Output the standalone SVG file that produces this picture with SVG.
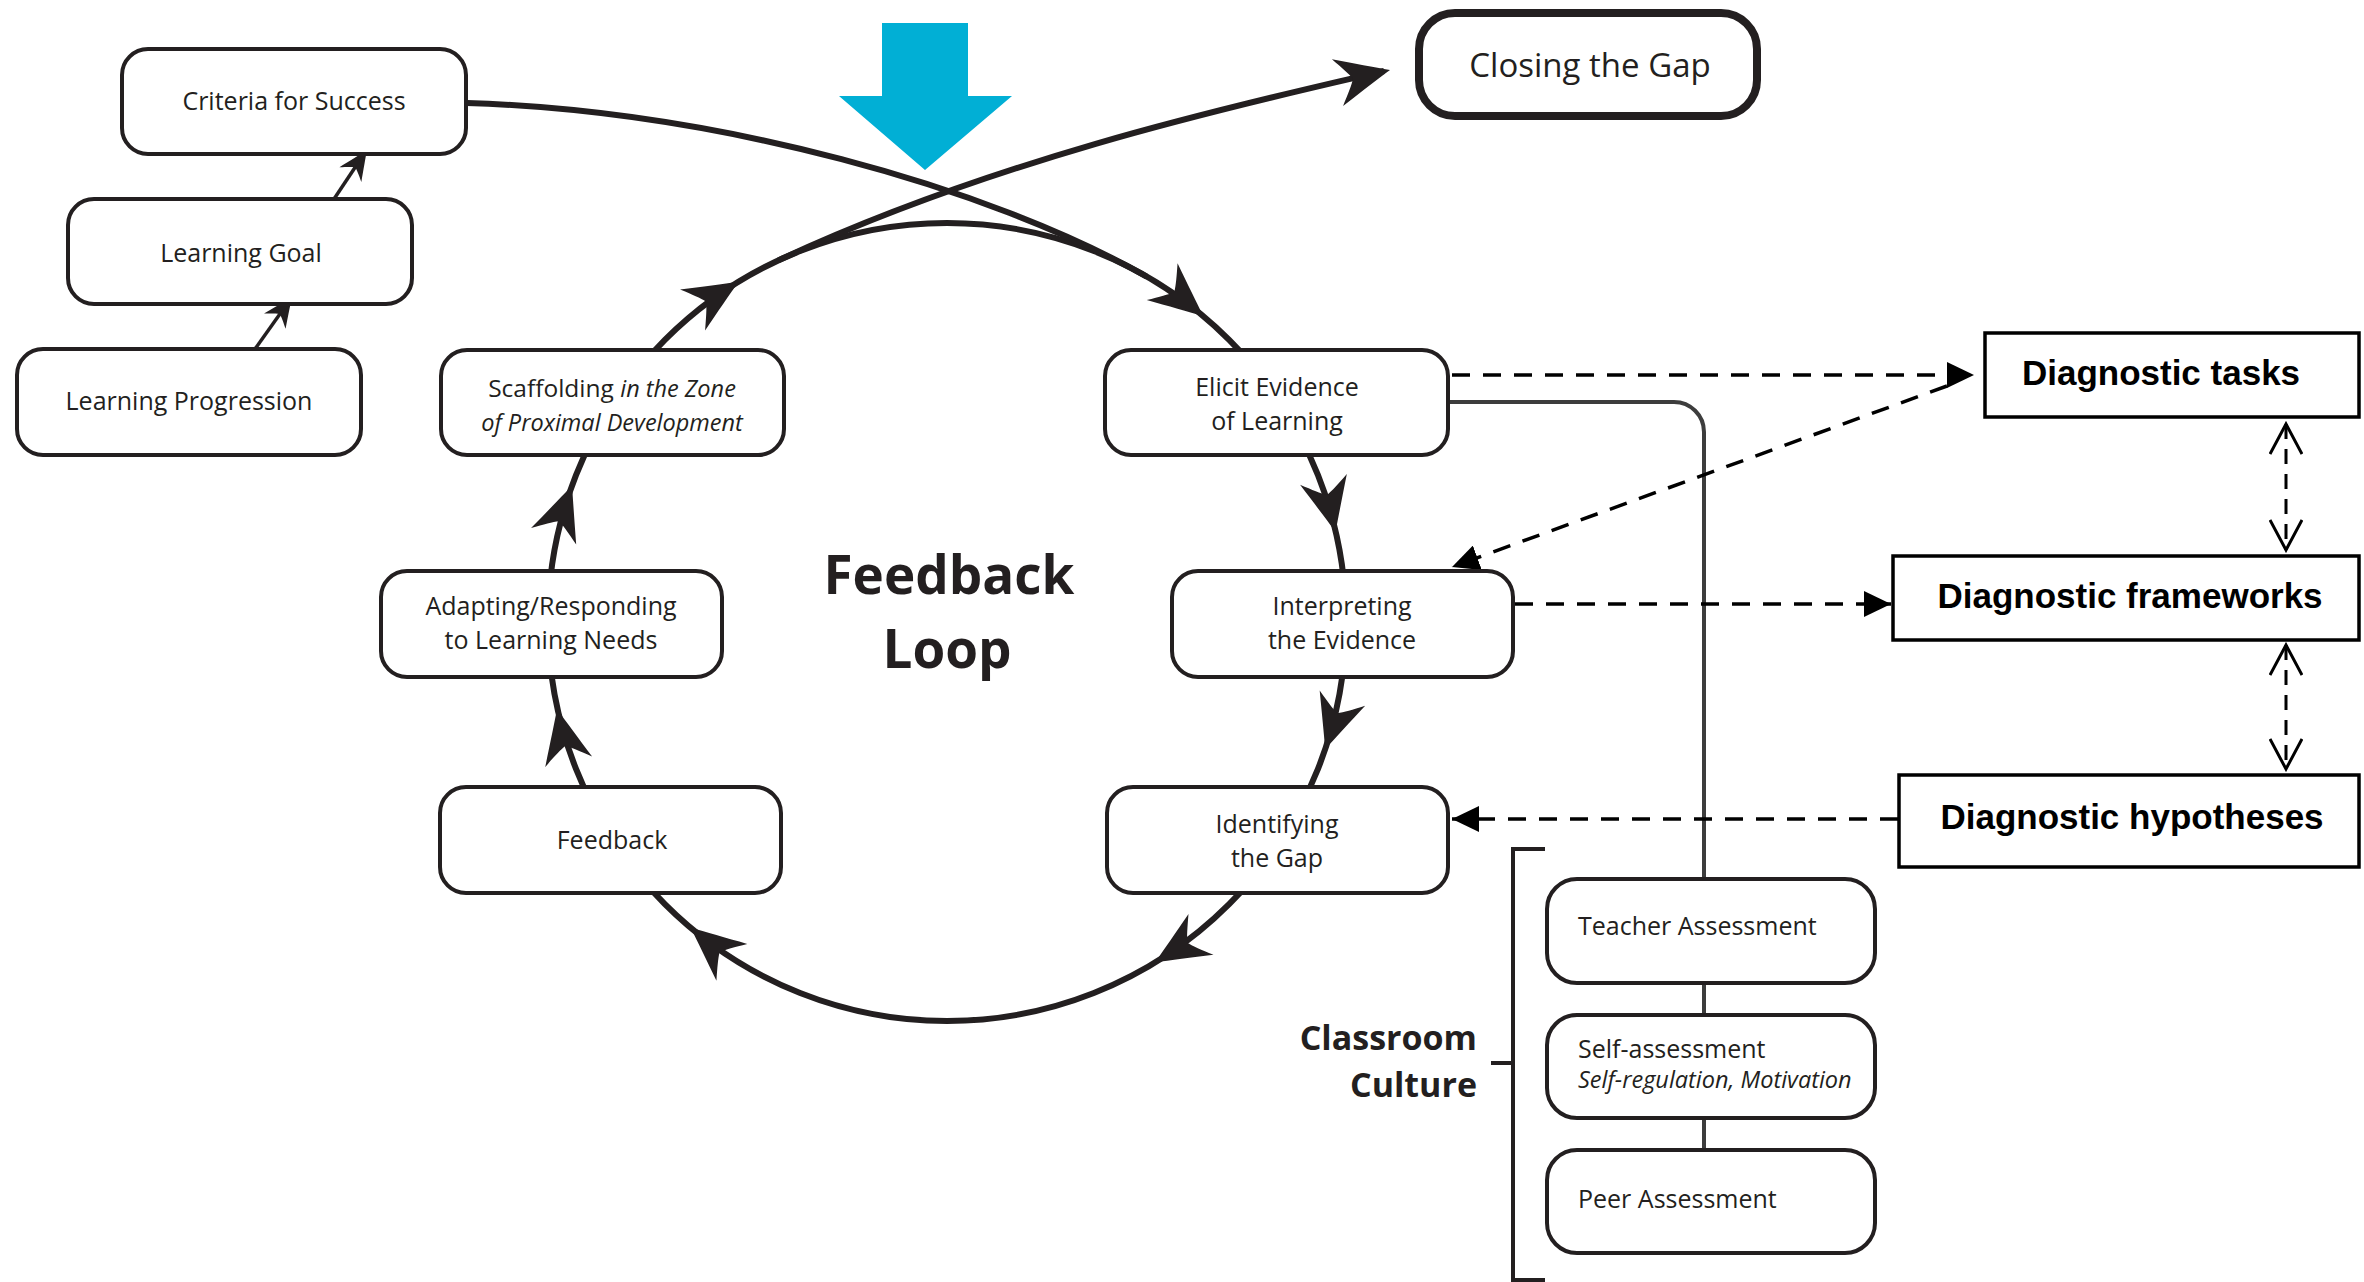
<svg xmlns="http://www.w3.org/2000/svg" xmlns:xlink="http://www.w3.org/1999/xlink" width="2364" height="1282" viewBox="0 0 2364 1282">
<style>
  .node rect { fill:#ffffff; stroke:#231f20; stroke-width:4; }
  .t { font-family:"Open Sans","Noto Sans","DejaVu Sans",sans-serif; font-size:25px; fill:#231f20; }
  .c { text-anchor:middle; }
  .it { font-style:italic; }
  .diag rect { fill:#ffffff; stroke:#000000; stroke-width:3.5; }
  .dt { font-family:"Liberation Sans",Arial,sans-serif; font-weight:bold; font-size:35px; fill:#000000; text-anchor:middle; }
  .flow { fill:none; stroke:#231f20; stroke-width:6; }
  .thin { fill:none; stroke:#231f20; stroke-width:3.5; }
  .dash { fill:none; stroke:#000000; stroke-width:3.5; stroke-dasharray:18 13; }
  .vdash { fill:none; stroke:#000000; stroke-width:3; stroke-dasharray:15 10; }
  .gray { fill:none; stroke:#3d3d3d; stroke-width:4; }
  .big { font-family:"Open Sans","Noto Sans",sans-serif; font-weight:bold; fill:#231f20; }
</style>
<defs>
  <path id="dart" d="M0,0 C-14,-6 -34,-15 -54,-24 C-46,-13 -41,-6 -38,0 C-41,6 -46,13 -54,24 C-34,15 -14,6 0,0 Z" fill="#231f20"/>
  <marker id="tri" markerUnits="userSpaceOnUse" viewBox="0 0 28 26" markerWidth="28" markerHeight="26" refX="27" refY="13" orient="auto">
    <path d="M0,0 L27,13 L0,26 Z" fill="#000000"/>
  </marker>
  <marker id="vee" markerUnits="userSpaceOnUse" viewBox="0 0 34 34" markerWidth="34" markerHeight="34" refX="31" refY="17" orient="auto-start-reverse">
    <path d="M1,1 L31,17 L1,33" fill="none" stroke="#000000" stroke-width="3"/>
  </marker>
</defs>

<rect x="0" y="0" width="2364" height="1282" fill="#ffffff"/>

<!-- blue arrow -->
<polygon id="focus-arrow" points="882,23 968,23 968,96 1012,96 925,170 839,96 882,96" fill="#01afd5"/>

<g id="connectors">
  <!-- feedback loop circle -->
  <circle class="flow" cx="947" cy="622" r="399"/>
  <!-- criteria for success to elicit evidence -->
  <path class="flow" d="M467,103 C717,111 989,187 1146.5,276.5"/>
  <!-- scaffolding out to closing the gap -->
  <path class="flow" d="M778.4,260.4 C1005,154.7 1260,100 1384,71"/>
  <!-- arrowheads on loop -->
  <use xlink:href="#dart" transform="translate(1203.5,316.4) rotate(40)"/>
  <use xlink:href="#dart" transform="translate(1335.6,532) rotate(77)"/>
  <use xlink:href="#dart" transform="translate(1325.2,749.3) rotate(108.6)"/>
  <use xlink:href="#dart" transform="translate(1154.9,962.5) rotate(148.6)"/>
  <use xlink:href="#dart" transform="translate(690.5,927.6) rotate(220)"/>
  <use xlink:href="#dart" transform="translate(557,709) rotate(257.5)"/>
  <use xlink:href="#dart" transform="translate(572.1,485.5) rotate(290)"/>
  <use xlink:href="#dart" transform="translate(738.6,281.8) rotate(328.5)"/>
  <use xlink:href="#dart" transform="translate(1390,70) rotate(-13.5)"/>
  <!-- small arrows on the left stack -->
  <path class="thin" d="M334,199 L362,157"/>
  <use xlink:href="#dart" transform="translate(367,150) rotate(-56) scale(0.55)"/>
  <path class="thin" d="M255,349 L287,304"/>
  <use xlink:href="#dart" transform="translate(292,297) rotate(-54.6) scale(0.55)"/>
  <!-- assessment link line -->
  <path class="gray" d="M1450,402 H1674 A30,30 0 0 1 1704,432 V879"/>
  <path class="gray" d="M1704,983 V1015"/>
  <path class="gray" d="M1704,1118 V1150"/>
  <!-- dashed diagnostic connectors -->
  <path class="dash" d="M1452,375 H1974" marker-end="url(#tri)"/>
  <path class="dash" d="M1947,386 L1452,567" marker-end="url(#tri)"/>
  <path class="dash" d="M1515,604 H1891" marker-end="url(#tri)"/>
  <path class="dash" d="M1898,819 H1452" marker-end="url(#tri)"/>
  <path class="vdash" d="M2286,424 V550" marker-start="url(#vee)" marker-end="url(#vee)"/>
  <path class="vdash" d="M2286,645 V769" marker-start="url(#vee)" marker-end="url(#vee)"/>
</g>

<!-- classroom culture bracket -->
<path id="bracket" d="M1545,849 H1513 V1280 H1545 M1491,1063 H1513" fill="none" stroke="#231f20" stroke-width="4"/>

<g id="n-criteria" class="node">
  <rect x="122" y="49" width="344" height="105" rx="26"/>
  <text class="t c" x="294" y="110">Criteria for Success</text>
</g>
<g id="n-goal" class="node">
  <rect x="68" y="199" width="344" height="105" rx="26"/>
  <text class="t c" x="241" y="262">Learning Goal</text>
</g>
<g id="n-progression" class="node">
  <rect x="17" y="349" width="344" height="106" rx="26"/>
  <text class="t c" x="189" y="410">Learning Progression</text>
</g>
<g id="n-scaffolding" class="node">
  <rect x="441" y="350" width="343" height="105" rx="26"/>
  <text class="t c" x="612" y="397" style="font-size:24.5px">Scaffolding <tspan class="it" style="font-size:23.5px">in the Zone</tspan></text>
  <text class="t c it" x="612" y="431" style="font-size:23.5px">of Proximal Development</text>
</g>
<g id="n-elicit" class="node">
  <rect x="1105" y="350" width="343" height="105" rx="26"/>
  <text class="t c" x="1277" y="396">Elicit Evidence</text>
  <text class="t c" x="1277" y="430">of Learning</text>
</g>
<g id="n-adapting" class="node">
  <rect x="381" y="571" width="341" height="106" rx="26"/>
  <text class="t c" x="551" y="615">Adapting/Responding</text>
  <text class="t c" x="551" y="649">to Learning Needs</text>
</g>
<g id="n-interpreting" class="node">
  <rect x="1172" y="571" width="341" height="106" rx="26"/>
  <text class="t c" x="1342" y="615">Interpreting</text>
  <text class="t c" x="1342" y="649">the Evidence</text>
</g>
<g id="n-feedback" class="node">
  <rect x="440" y="787" width="341" height="106" rx="26"/>
  <text class="t c" x="612" y="849">Feedback</text>
</g>
<g id="n-identifying" class="node">
  <rect x="1107" y="787" width="341" height="106" rx="26"/>
  <text class="t c" x="1277" y="833">Identifying</text>
  <text class="t c" x="1277" y="867">the Gap</text>
</g>
<g id="n-closing" class="node">
  <rect x="1419" y="13" width="338" height="103" rx="36" style="stroke-width:8"/>
  <text class="t c" x="1590" y="77" style="font-size:33px">Closing the Gap</text>
</g>
<g id="n-teacher" class="node">
  <rect x="1547" y="879" width="328" height="104" rx="30"/>
  <text class="t" x="1578" y="935">Teacher Assessment</text>
</g>
<g id="n-self" class="node">
  <rect x="1547" y="1015" width="328" height="103" rx="30"/>
  <text class="t" x="1578" y="1058">Self-assessment</text>
  <text class="t it" x="1578" y="1088" style="font-size:23.5px">Self-regulation, Motivation</text>
</g>
<g id="n-peer" class="node">
  <rect x="1547" y="1150" width="328" height="103" rx="30"/>
  <text class="t" x="1578" y="1208">Peer Assessment</text>
</g>

<g id="n-tasks" class="diag">
  <rect x="1985" y="333" width="374" height="84"/>
  <text class="dt" x="2161" y="385">Diagnostic tasks</text>
</g>
<g id="n-frameworks" class="diag">
  <rect x="1893" y="556" width="466" height="84"/>
  <text class="dt" x="2130" y="608">Diagnostic frameworks</text>
</g>
<g id="n-hypotheses" class="diag">
  <rect x="1899" y="775" width="460" height="92"/>
  <text class="dt" x="2132" y="829">Diagnostic hypotheses</text>
</g>

<g id="labels">
  <text class="big" x="949" y="594" style="font-size:53px" text-anchor="middle">Feedback</text>
  <text class="big" x="947" y="668" style="font-size:53px" text-anchor="middle">Loop</text>
  <text class="big" x="1477" y="1050" style="font-size:34px" text-anchor="end">Classroom</text>
  <text class="big" x="1477" y="1097" style="font-size:34px" text-anchor="end">Culture</text>
</g>
</svg>
